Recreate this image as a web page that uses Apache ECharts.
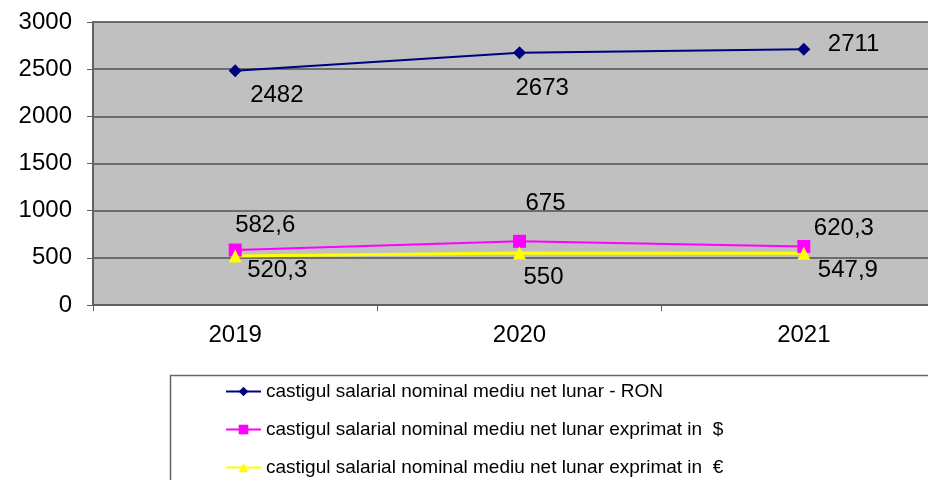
<!DOCTYPE html>
<html>
<head>
<meta charset="utf-8">
<script src="https://cdn.jsdelivr.net/npm/echarts@6/dist/echarts.min.js"></script>
<style>
  html, body { margin: 0; padding: 0; background: #fff; }
  #chart { width: 928px; height: 480px; }
</style>
</head>
<body>
<div id="chart"></div>
<script>
(function () {
    'use strict';

    // data
    var years = ['2019', '2020', '2021'];
    var ronValues = [2482, 2673, 2711];
    var usdValues = [582.6, 675, 620.3];
    var eurValues = [520.3, 550, 547.9];
    var seriesNames = [
        'castigul salarial nominal mediu net lunar - RON',
        'castigul salarial nominal mediu net lunar exprimat in  $',
        'castigul salarial nominal mediu net lunar exprimat in  €'
    ];

    // label placement per point (style, not data)
    var ronLabelPos = [[15, 1], [-4, 12], [24, -28]];
    var usdLabelPos = [[0, -48], [6, -61], [10, -42]];
    var eurLabelPos = [[12, -9], [4, 1], [14, -6]];

    var FONT = 'Arial, "Liberation Sans", sans-serif';

    function fmt(v) {
        return String(v).replace('.', ',');
    }

    function withLabels(values, offsets) {
        return values.map(function (v, i) {
            return {
                value: v,
                label: { position: 'bottom', offset: offsets[i] }
            };
        });
    }

    var labelStyle = {
        show: true,
        color: '#000',
        fontFamily: FONT,
        fontSize: 24,
        align: 'left',
        formatter: function (p) { return fmt(p.value); }
    };

    var chart = echarts.init(document.getElementById('chart'));
    chart.setOption({
        animation: false,
        backgroundColor: '#fff',
        grid: {
            left: 93,
            top: 22,
            width: 853,
            height: 283,
            outerBoundsMode: 'none',
            containLabel: false,
            show: true,
            backgroundColor: '#C0C0C0',
            borderColor: '#9a9a9a',
            borderWidth: 1
        },
        xAxis: {
            type: 'category',
            data: years,
            boundaryGap: true,
            axisLine: { lineStyle: { color: '#606060', width: 2 } },
            axisTick: { show: true, length: 6, lineStyle: { color: '#606060' } },
            axisLabel: {
                color: '#000',
                fontFamily: FONT,
                fontSize: 24,
                margin: 18
            },
            splitLine: { show: false }
        },
        yAxis: {
            type: 'value',
            min: 0,
            max: 3000,
            interval: 500,
            axisLine: { show: true, lineStyle: { color: '#606060', width: 2 } },
            axisTick: { show: true, length: 6, lineStyle: { color: '#606060' } },
            axisLabel: {
                color: '#000',
                fontFamily: FONT,
                fontSize: 24,
                margin: 21,
                formatter: function (v) { return String(v); }
            },
            splitLine: { lineStyle: { color: '#505050', width: 1.5 } }
        },
        legend: {
            orient: 'vertical',
            left: 220,
            top: 377,
            height: 200,
            itemWidth: 35,
            itemHeight: 12,
            itemGap: 19,
            textStyle: {
                color: '#000',
                fontFamily: '"Liberation Sans Narrow", "Arial Narrow", Arial, sans-serif',
                fontSize: 19
            },
            data: seriesNames
        },
        graphic: [{
            type: 'rect',
            left: 168,
            top: 373,
            shape: { width: 800, height: 130 },
            style: { fill: 'none', stroke: '#666', lineWidth: 1.5 },
            z: -1
        }],
        series: [{
            name: seriesNames[0],
            type: 'line',
            data: withLabels(ronValues, ronLabelPos),
            symbol: 'diamond',
            symbolSize: 13,
            color: '#000080',
            lineStyle: { color: '#000080', width: 2 },
            itemStyle: { color: '#000080' },
            label: labelStyle
        }, {
            name: seriesNames[1],
            type: 'line',
            data: withLabels(usdValues, usdLabelPos),
            symbol: 'rect',
            symbolSize: 13,
            color: '#FF00FF',
            lineStyle: { color: '#FF00FF', width: 2 },
            itemStyle: { color: '#FF00FF' },
            label: labelStyle
        }, {
            name: seriesNames[2],
            type: 'line',
            data: withLabels(eurValues, eurLabelPos),
            symbol: 'triangle',
            symbolSize: 13,
            color: '#FFFF00',
            lineStyle: { color: '#FFFF00', width: 3 },
            itemStyle: { color: '#FFFF00' },
            label: labelStyle
        }]
    });
})();
</script>
</body>
</html>
